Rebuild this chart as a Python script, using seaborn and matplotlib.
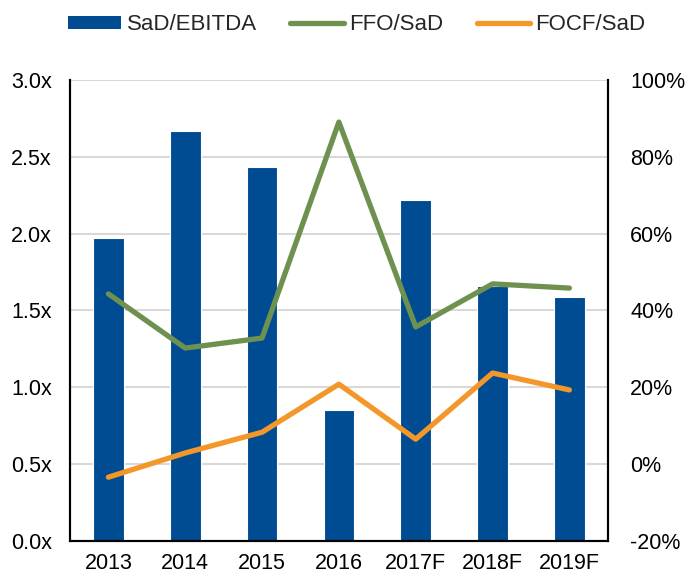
import matplotlib
matplotlib.use("Agg")
import matplotlib.pyplot as plt
import seaborn as sns
import pandas as pd
from matplotlib.ticker import FuncFormatter, MultipleLocator
from matplotlib.lines import Line2D
from matplotlib.patches import Patch

years = ['2013', '2014', '2015', '2016', '2017F', '2018F', '2019F']
sad_ebitda = [1.97, 2.67, 2.43, 0.85, 2.22, 1.66, 1.59]
ffo_sad = [44.3, 30.2, 32.8, 89.0, 35.7, 46.9, 45.8]
focf_sad = [-3.4, 2.9, 8.3, 20.8, 6.5, 23.7, 19.3]

blue = '#004C93'
green = '#6E9150'
orange = '#F4972A'

sns.set_style('white')
plt.rcParams['font.family'] = ['Liberation Sans', 'DejaVu Sans']

df = pd.DataFrame({'Year': years, 'SaD/EBITDA': sad_ebitda,
                   'FFO/SaD': ffo_sad, 'FOCF/SaD': focf_sad})

fig = plt.figure(figsize=(6.86, 5.74), dpi=100)
ax = fig.add_axes([0.102, 0.0575, 0.784, 0.8035])

ax.yaxis.grid(True, color='#d9d9d9', linewidth=1.5, zorder=0)
ax.set_axisbelow(True)
sns.barplot(data=df, x='Year', y='SaD/EBITDA', color=blue, width=0.4,
            edgecolor='white', linewidth=0.8, saturation=1, ax=ax, zorder=2)
ax.set_ylim(0, 3.0)
ax.yaxis.set_major_locator(MultipleLocator(0.5))
ax.yaxis.set_major_formatter(FuncFormatter(lambda v, p: f'{v:.1f}x'))
ax.set_xlabel('')
ax.set_ylabel('')
ax.set_xlim(-0.5, 6.5)

ax2 = ax.twinx()
sns.lineplot(data=df, x='Year', y='FFO/SaD', color=green, linewidth=3.8,
             ax=ax2, sort=False)
sns.lineplot(data=df, x='Year', y='FOCF/SaD', color=orange, linewidth=3.8,
             ax=ax2, sort=False)
ax2.set_ylim(-20, 100)
ax2.yaxis.set_major_locator(MultipleLocator(20))
ax2.yaxis.set_major_formatter(FuncFormatter(lambda v, p: f'{v:.0f}%'))
ax2.set_ylabel('')
ax2.set_xlim(-0.5, 6.5)

for a in (ax, ax2):
    a.tick_params(axis='both', length=0, labelsize=15.5, colors='black')
    a.spines['top'].set_visible(False)
    for s in ('left', 'right', 'bottom'):
        a.spines[s].set_color('black')
        a.spines[s].set_linewidth(1.5)
ax.tick_params(axis='y', pad=13)
ax2.tick_params(axis='y', pad=16)
ax.tick_params(axis='x', pad=9)

handles = [Patch(facecolor=blue, edgecolor='none'),
           Line2D([], [], color=green, linewidth=3.8, solid_capstyle='round'),
           Line2D([], [], color=orange, linewidth=3.8, solid_capstyle='round')]
fig.legend(handles, ['SaD/EBITDA', 'FFO/SaD', 'FOCF/SaD'], loc='upper center',
           bbox_to_anchor=(0.52, 1.01), ncol=3, frameon=False, fontsize=16,
           handlelength=2.4, handleheight=0.5, handletextpad=0.25,
           columnspacing=1.5)

fig.savefig('out.png', dpi=100)
